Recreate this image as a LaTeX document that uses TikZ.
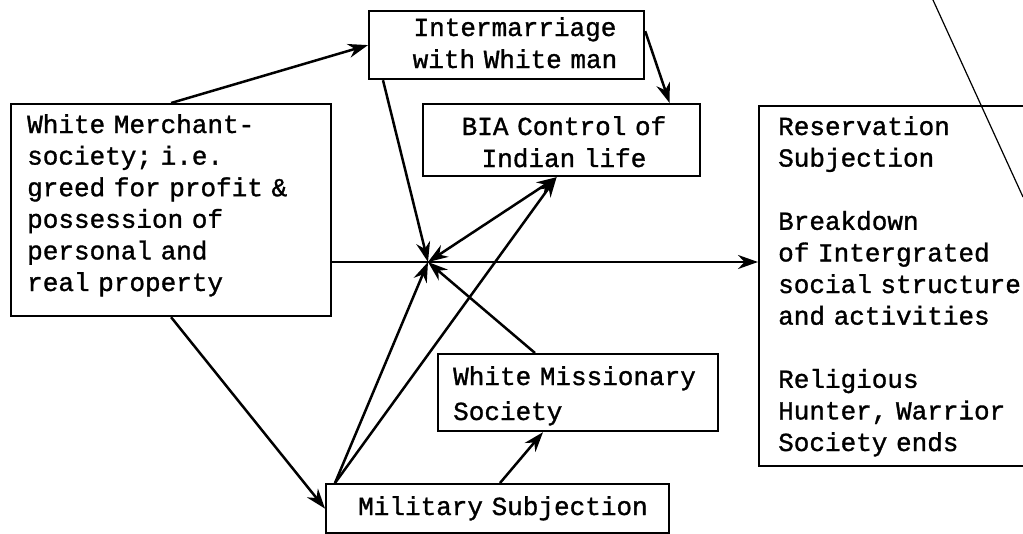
\documentclass[tikz,border=0pt]{standalone}
\usepackage{fontspec}
\setmonofont[FakeBold=1.2]{Liberation Mono}
\usetikzlibrary{arrows.meta}
% typewriter face with a full-cell word space
\newcommand{\typeface}[1]{\ttfamily\fontsize{26}{#1}\selectfont\frenchspacing
  \fontdimen2\font=15.6pt\fontdimen3\font=0pt\fontdimen4\font=0pt}
\begin{document}
\begin{tikzpicture}[x=1pt,y=-1pt,
  box/.style={draw, line width=2.2pt, inner sep=0pt, anchor=north west},
  lbl/.style={font=\typeface{31.6pt}, inner sep=0pt,
              anchor=base west, text width=340pt, align=left},
  clbl/.style={font=\typeface{32pt}, inner sep=0pt,
              anchor=base, text width=290pt, align=center},
  conn/.style={line width=2.5pt, -{Stealth[length=20pt,width=14pt]}},
  both/.style={line width=2.5pt, {Stealth[length=20pt,width=14pt]}-{Stealth[length=20pt,width=14pt]}},
]
\useasboundingbox (0,0) rectangle (1023,533);
\clip (0,0) rectangle (1023,533);

% boxes
\node[box, minimum width=320pt, minimum height=212pt] (merchant) at (10,103) {};
\node[box, minimum width=275pt, minimum height=68pt]  (inter)    at (368,10) {};
\node[box, minimum width=277pt, minimum height=72pt]  (bia)      at (422,103) {};
\node[box, minimum width=320pt, minimum height=360pt] (res)      at (758,105) {};
\node[box, minimum width=280pt, minimum height=77pt]  (mis)      at (437,353) {};
\node[box, minimum width=343pt, minimum height=49pt]  (mil)      at (325,483) {};

% texts
\node[lbl] (merchant-t) at (27,133) {White Merchant-\\society; i.e.\\greed for profit \&\\possession of\\personal and\\real property};
\node[clbl] (inter-t) at (515,36) {Intermarriage\\with White man};
\node[clbl] (bia-t) at (564,135) {BIA Control of\\Indian life};
\node[lbl] (res-t) at (778,135) {Reservation\\Subjection\\[31.6pt]Breakdown\\of Intergrated\\social structure\\and activities\\[31.6pt]Religious\\Hunter, Warrior\\Society ends};
\node[lbl, font=\typeface{35pt}] (mis-t) at (453,385) {White Missionary\\Society};
\node[lbl] (mil-t) at (358,515) {Military Subjection};

% meeting point of the influences
\coordinate (hub) at (428,262);

% connectors
\draw[conn] (merchant.north) -- (inter.west);
\draw[conn] (merchant.south) -- (mil.west);
\draw[conn] (merchant.east |- hub) -- (res.west |- hub);
\draw[conn] ([xshift=15pt]inter.south west) -- (hub);
\draw[conn] ([yshift=14pt]inter.east) -- ([xshift=108pt]bia.north);
\draw[both] (hub) -- ([xshift=-5pt]bia.south);
\draw[conn] ([xshift=10pt]mil.north west) -- (hub);
\draw[conn] ([xshift=10pt]mil.north west) -- ([xshift=-5pt]bia.south);
\draw[conn] ([xshift=98pt]mis.north west) -- (hub);
\draw[conn] ([xshift=175pt]mil.north west) -- ([xshift=106pt]mis.south west);

% thin slanted stroke at the upper right
\draw[line width=1.2pt] (933,0) -- (1023,197);
\end{tikzpicture}
\end{document}
